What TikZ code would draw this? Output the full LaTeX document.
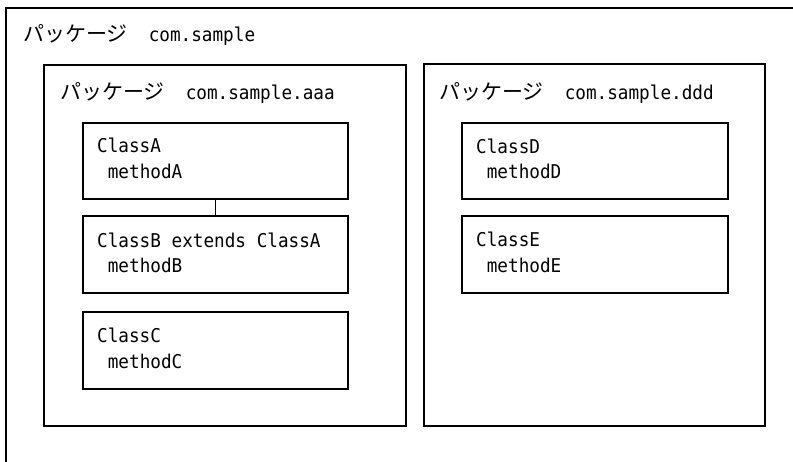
\documentclass[tikz,border=0pt]{standalone}
\usepackage{graphicx}
\usepackage{fontspec}
\newfontfamily\jpfont{Noto Sans CJK JP}
\newfontfamily\monofont{DejaVu Sans Mono}
\newcommand{\mtext}[1]{\scalebox{0.93}[1]{\monofont\fontsize{19}{24}\selectfont #1}}
\newcommand{\pkgname}[1]{{\jpfont\fontsize{21}{24}\selectfont パッケージ　}\mtext{#1}}
\begin{document}
\begin{tikzpicture}[x=1pt,y=-1pt,
  box/.style={draw=black, line width=1.9pt, rectangle, inner sep=0pt, anchor=north west, fill=white},
  lbl/.style={anchor=base west, inner sep=0pt},
  plbl/.style={anchor=base west, inner sep=0pt},
  link/.style={draw=black, line width=1.9pt}]
\useasboundingbox (0,0) rectangle (793,461);
\clip (0,0) rectangle (793,461);
\fill[white] (0,0) rectangle (793,461);
% outer package (cropped at right and bottom)
\node[box, minimum width=850pt, minimum height=520pt] (outer) at (5,7) {};
\node[plbl] (outerlbl) at (23,41) {\pkgname{com.sample}};
% package aaa
\node[box, minimum width=362pt, minimum height=361pt] (aaa) at (43,64) {};
\node[plbl] (aaalbl) at (60,99) {\pkgname{com.sample.aaa}};
% package ddd
\node[box, minimum width=341pt, minimum height=362pt] (ddd) at (423,63) {};
\node[plbl] (dddlbl) at (439,99) {\pkgname{com.sample.ddd}};
% classes in aaa
\node[box, minimum width=265pt, minimum height=76pt] (A) at (82,122) {};
\node[lbl] (A1) at (97,152) {\mtext{ClassA}};
\node[lbl] (A2) at (97,178) {\mtext{\ methodA}};
\node[box, minimum width=265pt, minimum height=77pt] (B) at (82,215) {};
\node[lbl] (B1) at (97,247) {\mtext{ClassB extends ClassA}};
\node[lbl] (B2) at (97,272) {\mtext{\ methodB}};
\node[box, minimum width=265pt, minimum height=77pt] (C) at (82,311) {};
\node[lbl] (C1) at (97,342) {\mtext{ClassC}};
\node[lbl] (C2) at (97,368) {\mtext{\ methodC}};
% classes in ddd
\node[box, minimum width=266pt, minimum height=76pt] (D) at (461,122) {};
\node[lbl] (D1) at (476,153) {\mtext{ClassD}};
\node[lbl] (D2) at (476,178) {\mtext{\ methodD}};
\node[box, minimum width=266pt, minimum height=77pt] (E) at (461,215) {};
\node[lbl] (E1) at (476,246) {\mtext{ClassE}};
\node[lbl] (E2) at (476,272) {\mtext{\ methodE}};
% connector
\draw[link] (A.south) -- (B.north);
\end{tikzpicture}
\end{document}
